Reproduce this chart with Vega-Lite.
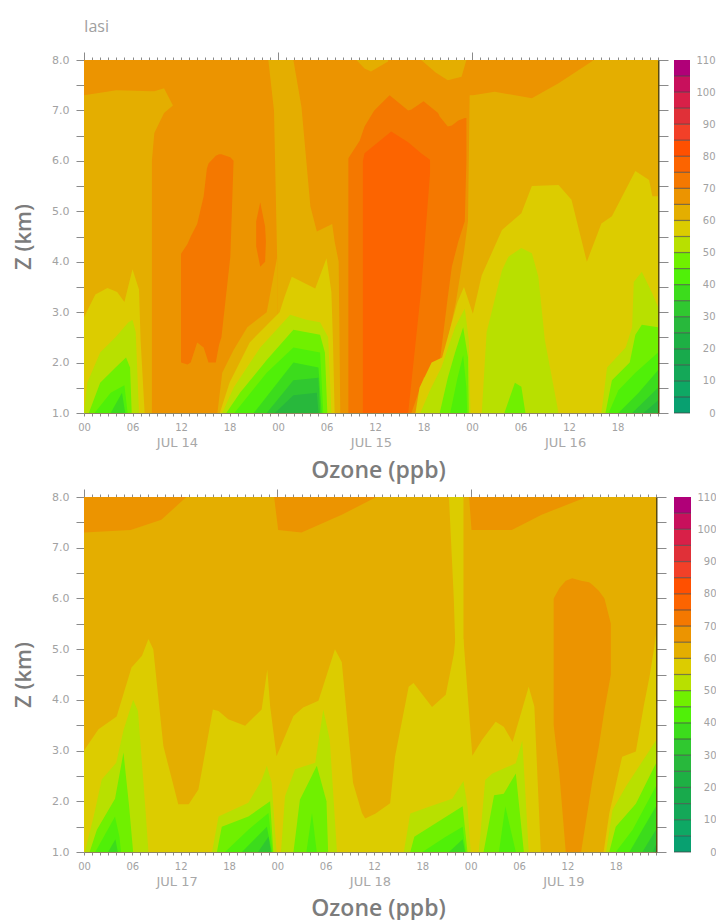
{
"$schema":"https://vega.github.io/schema/vega-lite/v6.json",
"background":"white",
"padding":{"left":12,"top":18,"right":0,"bottom":6},
"bounds":"flush",
"columns":2,
"spacing":{"row":84,"column":16},
"config":{"view":{"stroke":null},"axis":{"grid":false,"labelFont":"DejaVu Sans","labelColor":"#a2a2a2","titleFont":"Open Sans","titleColor":"#7c7c7c","titleFontSize":22,"titleFontWeight":600,"tickColor":"#8a8a8a","domainColor":"#8f8460"}},
"datasets":{
"axis":[{"h":0,"z":1},{"h":71,"z":8}],
"bar":[{"v":0,"hi":5},{"v":5,"hi":10},{"v":10,"hi":15},{"v":15,"hi":20},{"v":20,"hi":25},{"v":25,"hi":30},{"v":30,"hi":35},{"v":35,"hi":40},{"v":40,"hi":45},{"v":45,"hi":50},{"v":50,"hi":55},{"v":55,"hi":60},{"v":60,"hi":65},{"v":65,"hi":70},{"v":70,"hi":75},{"v":75,"hi":80},{"v":80,"hi":85},{"v":85,"hi":90},{"v":90,"hi":95},{"v":95,"hi":100},{"v":100,"hi":105},{"v":105,"hi":110}],
"top":[
{"r":"b","v":65,"t":0,"a":1,"b":8},{"r":"b","v":65,"t":71,"a":1,"b":8},
{"r":"c1","v":60,"t":0,"a":1,"b":7.3},{"r":"c1","v":60,"t":4,"a":1,"b":7.4},{"r":"c1","v":60,"t":8.4,"a":1,"b":7.38},{"r":"c1","v":60,"t":8.4,"a":6,"b":7.38},{"r":"c1","v":60,"t":8.7,"a":6.55,"b":7.38},{"r":"c1","v":60,"t":9.9,"a":6.95,"b":7.44},{"r":"c1","v":60,"t":11,"a":7.1,"b":7.1},
{"r":"d1","v":70,"t":12,"a":2,"b":4.16},{"r":"d1","v":70,"t":12.8,"a":1.96,"b":4.35},{"r":"d1","v":70,"t":13.2,"a":2,"b":4.5},{"r":"d1","v":70,"t":14,"a":2.4,"b":4.75},{"r":"d1","v":70,"t":14.8,"a":2.3,"b":5.3},{"r":"d1","v":70,"t":15.2,"a":2.1,"b":5.85},{"r":"d1","v":70,"t":15.4,"a":2,"b":5.95},{"r":"d1","v":70,"t":16.3,"a":2,"b":6.1},{"r":"d1","v":70,"t":16.7,"a":2.35,"b":6.13},{"r":"d1","v":70,"t":17,"a":2.5,"b":6.13},{"r":"d1","v":70,"t":18.1,"a":4.1,"b":6.07},{"r":"d1","v":70,"t":18.5,"a":6,"b":6},
{"r":"d2","v":70,"t":21.3,"a":4.3,"b":4.8},{"r":"d2","v":70,"t":21.8,"a":3.9,"b":5.18},{"r":"d2","v":70,"t":22.4,"a":4,"b":4.7},{"r":"d2","v":70,"t":22.5,"a":4.4,"b":4.4},
{"r":"e1","v":60,"t":16.5,"a":1,"b":1},{"r":"e1","v":60,"t":17.1,"a":1,"b":1.8},{"r":"e1","v":60,"t":18.5,"a":1,"b":2.25},{"r":"e1","v":60,"t":20.2,"a":1,"b":2.7},{"r":"e1","v":60,"t":22.6,"a":1,"b":3},{"r":"e1","v":60,"t":23.9,"a":1,"b":4.1},
{"r":"e2","v":60,"t":22.8,"a":8,"b":8},{"r":"e2","v":60,"t":23.5,"a":7,"b":8},{"r":"e2","v":60,"t":23.9,"a":4,"b":8},{"r":"e2","v":60,"t":23.9,"a":1,"b":8},{"r":"e2","v":60,"t":25.9,"a":1,"b":8},{"r":"e2","v":60,"t":26.9,"a":1,"b":7.07},{"r":"e2","v":60,"t":28,"a":1,"b":5.1},{"r":"e2","v":60,"t":28.8,"a":1,"b":4.6},{"r":"e2","v":60,"t":30.7,"a":1,"b":4.75},{"r":"e2","v":60,"t":31,"a":1,"b":4.4},{"r":"e2","v":60,"t":31.5,"a":1,"b":4},{"r":"e2","v":60,"t":31.7,"a":1,"b":1},
{"r":"f1","v":55,"t":0,"a":1,"b":2.9},{"r":"f1","v":55,"t":1.4,"a":1,"b":3.35},{"r":"f1","v":55,"t":2.9,"a":1,"b":3.48},{"r":"f1","v":55,"t":4.1,"a":1,"b":3.4},{"r":"f1","v":55,"t":5,"a":1,"b":3.2},{"r":"f1","v":55,"t":6,"a":1,"b":3.85},{"r":"f1","v":55,"t":6.8,"a":1,"b":3.45},{"r":"f1","v":55,"t":7,"a":1,"b":2.45},{"r":"f1","v":55,"t":7.5,"a":1,"b":1},
{"r":"f2","v":50,"t":0,"a":1,"b":1},{"r":"f2","v":50,"t":0.4,"a":1,"b":1.6},{"r":"f2","v":50,"t":2,"a":1,"b":2.2},{"r":"f2","v":50,"t":3.9,"a":1,"b":2.5},{"r":"f2","v":50,"t":5.5,"a":1,"b":2.8},{"r":"f2","v":50,"t":6,"a":1,"b":2.85},{"r":"f2","v":50,"t":6.4,"a":1,"b":2.6},{"r":"f2","v":50,"t":6.8,"a":1,"b":1},
{"r":"f3","v":45,"t":0.6,"a":1,"b":1},{"r":"f3","v":45,"t":2,"a":1,"b":1.6},{"r":"f3","v":45,"t":3.9,"a":1,"b":1.9},{"r":"f3","v":45,"t":5.2,"a":1,"b":2.1},{"r":"f3","v":45,"t":5.7,"a":1,"b":1.9},{"r":"f3","v":45,"t":5.9,"a":1,"b":1},
{"r":"f4","v":40,"t":1.3,"a":1,"b":1},{"r":"f4","v":40,"t":3.3,"a":1,"b":1.4},{"r":"f4","v":40,"t":5,"a":1,"b":1.55},{"r":"f4","v":40,"t":5.4,"a":1,"b":1},
{"r":"f5","v":35,"t":3.3,"a":1,"b":1},{"r":"f5","v":35,"t":4.7,"a":1,"b":1.4},{"r":"f5","v":35,"t":5.1,"a":1,"b":1},
{"r":"g1","v":55,"t":16.8,"a":1,"b":1},{"r":"g1","v":55,"t":18,"a":1,"b":1.6},{"r":"g1","v":55,"t":20.5,"a":1,"b":2.4},{"r":"g1","v":55,"t":24.2,"a":1,"b":3},{"r":"g1","v":55,"t":24.8,"a":1,"b":3.3},{"r":"g1","v":55,"t":25.7,"a":1,"b":3.7},{"r":"g1","v":55,"t":28.6,"a":1,"b":3.47},{"r":"g1","v":55,"t":30,"a":1,"b":4.07},{"r":"g1","v":55,"t":30.6,"a":1,"b":3.4},{"r":"g1","v":55,"t":30.8,"a":1,"b":2.4},{"r":"g1","v":55,"t":31,"a":1,"b":1},
{"r":"g2","v":50,"t":17.1,"a":1,"b":1},{"r":"g2","v":50,"t":18.5,"a":1,"b":1.5},{"r":"g2","v":50,"t":21.8,"a":1,"b":2.3},{"r":"g2","v":50,"t":25.5,"a":1,"b":2.95},{"r":"g2","v":50,"t":27.5,"a":1,"b":2.85},{"r":"g2","v":50,"t":29.2,"a":1,"b":2.8},{"r":"g2","v":50,"t":30.2,"a":1,"b":2.5},{"r":"g2","v":50,"t":30.6,"a":1,"b":1},
{"r":"g3","v":45,"t":17.6,"a":1,"b":1},{"r":"g3","v":45,"t":19.3,"a":1,"b":1.4},{"r":"g3","v":45,"t":22.6,"a":1,"b":2.05},{"r":"g3","v":45,"t":25.9,"a":1,"b":2.65},{"r":"g3","v":45,"t":29.2,"a":1,"b":2.55},{"r":"g3","v":45,"t":29.8,"a":1,"b":2.2},{"r":"g3","v":45,"t":30.1,"a":1,"b":1},
{"r":"g4","v":40,"t":18.6,"a":1,"b":1},{"r":"g4","v":40,"t":22.6,"a":1,"b":1.8},{"r":"g4","v":40,"t":25.9,"a":1,"b":2.3},{"r":"g4","v":40,"t":29.2,"a":1,"b":2.2},{"r":"g4","v":40,"t":29.6,"a":1,"b":1},
{"r":"g5","v":35,"t":21,"a":1,"b":1},{"r":"g5","v":35,"t":25.9,"a":1,"b":2},{"r":"g5","v":35,"t":29,"a":1,"b":1.9},{"r":"g5","v":35,"t":29.4,"a":1,"b":1},
{"r":"g6","v":30,"t":22.6,"a":1,"b":1},{"r":"g6","v":30,"t":25.9,"a":1,"b":1.65},{"r":"g6","v":30,"t":29,"a":1,"b":1.7},{"r":"g6","v":30,"t":29.2,"a":1,"b":1},
{"r":"g7","v":25,"t":23.6,"a":1,"b":1},{"r":"g7","v":25,"t":25.9,"a":1,"b":1.35},{"r":"g7","v":25,"t":28.8,"a":1,"b":1.4},{"r":"g7","v":25,"t":29,"a":1,"b":1},
{"r":"h1","v":70,"t":32.7,"a":1,"b":6.05},{"r":"h1","v":70,"t":34.1,"a":1,"b":6.4},{"r":"h1","v":70,"t":34.7,"a":1,"b":6.68},{"r":"h1","v":70,"t":35.9,"a":1,"b":7},{"r":"h1","v":70,"t":37.8,"a":1,"b":7.3},{"r":"h1","v":70,"t":40.1,"a":1,"b":7},{"r":"h1","v":70,"t":40.5,"a":1,"b":7.02},{"r":"h1","v":70,"t":42,"a":1.7,"b":7.18},{"r":"h1","v":70,"t":43.8,"a":1.95,"b":6.95},{"r":"h1","v":70,"t":44,"a":2,"b":6.88},{"r":"h1","v":70,"t":45,"a":3.3,"b":6.68},{"r":"h1","v":70,"t":45.5,"a":3.9,"b":6.7},{"r":"h1","v":70,"t":46.3,"a":4.4,"b":6.8},{"r":"h1","v":70,"t":47.1,"a":4.8,"b":6.85},{"r":"h1","v":70,"t":47.3,"a":6,"b":6.85},
{"r":"h2","v":75,"t":34.5,"a":1,"b":6},{"r":"h2","v":75,"t":34.7,"a":1,"b":6.15},{"r":"h2","v":75,"t":38,"a":1,"b":6.58},{"r":"h2","v":75,"t":40.1,"a":1,"b":6.37},{"r":"h2","v":75,"t":41.7,"a":3.44,"b":6.15},{"r":"h2","v":75,"t":42.8,"a":5.75,"b":6.02},
{"r":"i1","v":60,"t":33.7,"a":8,"b":8},{"r":"i1","v":60,"t":34.7,"a":7.83,"b":8},{"r":"i1","v":60,"t":35.5,"a":7.77,"b":8},{"r":"i1","v":60,"t":37.6,"a":7.97,"b":8},
{"r":"i2","v":60,"t":41.7,"a":8,"b":8},{"r":"i2","v":60,"t":43.5,"a":7.75,"b":8},{"r":"i2","v":60,"t":45,"a":7.6,"b":8},{"r":"i2","v":60,"t":46.7,"a":7.67,"b":8},{"r":"i2","v":60,"t":47.3,"a":8,"b":8},
{"r":"j1","v":60,"t":41.2,"a":1,"b":1},{"r":"j1","v":60,"t":44.4,"a":1,"b":2},{"r":"j1","v":60,"t":46,"a":1,"b":3.2},{"r":"j1","v":60,"t":47,"a":1,"b":4.2},{"r":"j1","v":60,"t":47.5,"a":1,"b":4.8},{"r":"j1","v":60,"t":47.7,"a":1,"b":7.3},{"r":"j1","v":60,"t":48.1,"a":1,"b":7.3},{"r":"j1","v":60,"t":50.8,"a":1,"b":7.37},{"r":"j1","v":60,"t":55.4,"a":1,"b":7.24},{"r":"j1","v":60,"t":58.7,"a":1,"b":7.54},{"r":"j1","v":60,"t":62.8,"a":1,"b":7.97},{"r":"j1","v":60,"t":63,"a":1,"b":8},{"r":"j1","v":60,"t":71,"a":1,"b":8},
{"r":"j2","v":55,"t":41,"a":1,"b":1},{"r":"j2","v":55,"t":41.5,"a":1,"b":1.5},{"r":"j2","v":55,"t":43,"a":1,"b":2},{"r":"j2","v":55,"t":44.3,"a":1,"b":2.1},{"r":"j2","v":55,"t":46.2,"a":1,"b":3.2},{"r":"j2","v":55,"t":47,"a":1,"b":3.5},{"r":"j2","v":55,"t":48.1,"a":1,"b":2.97},{"r":"j2","v":55,"t":49.2,"a":1,"b":3.73},{"r":"j2","v":55,"t":51.7,"a":1,"b":4.63},{"r":"j2","v":55,"t":54.1,"a":1,"b":4.96},{"r":"j2","v":55,"t":55.4,"a":1,"b":5.5},{"r":"j2","v":55,"t":58.7,"a":1,"b":5.52},{"r":"j2","v":55,"t":60.3,"a":1,"b":5.23},{"r":"j2","v":55,"t":62.2,"a":1,"b":4},{"r":"j2","v":55,"t":64,"a":1,"b":4.76},{"r":"j2","v":55,"t":65.3,"a":1,"b":4.9},{"r":"j2","v":55,"t":68.2,"a":1,"b":5.8},{"r":"j2","v":55,"t":69.9,"a":1,"b":5.62},{"r":"j2","v":55,"t":70.3,"a":1,"b":5.3},{"r":"j2","v":55,"t":71,"a":1,"b":5.3},
{"r":"k1","v":50,"t":41.6,"a":1,"b":1},{"r":"k1","v":50,"t":42.8,"a":1,"b":1.45},{"r":"k1","v":50,"t":44.2,"a":1,"b":1.9},{"r":"k1","v":50,"t":45.9,"a":1,"b":2.7},{"r":"k1","v":50,"t":47.1,"a":1,"b":3.07},{"r":"k1","v":50,"t":47.6,"a":1,"b":2.45},{"r":"k1","v":50,"t":47.8,"a":1,"b":1},
{"r":"k2","v":45,"t":44,"a":1,"b":1},{"r":"k2","v":45,"t":45,"a":1,"b":1.7},{"r":"k2","v":45,"t":45.9,"a":1,"b":2.2},{"r":"k2","v":45,"t":46.9,"a":1,"b":2.7},{"r":"k2","v":45,"t":47.5,"a":1,"b":2.1},{"r":"k2","v":45,"t":47.6,"a":1,"b":1},
{"r":"k3","v":40,"t":45.3,"a":1,"b":1},{"r":"k3","v":40,"t":46.2,"a":1,"b":1.7},{"r":"k3","v":40,"t":46.9,"a":1,"b":2.15},{"r":"k3","v":40,"t":47.3,"a":1,"b":1.5},{"r":"k3","v":40,"t":47.4,"a":1,"b":1},
{"r":"l1","v":50,"t":49.2,"a":1,"b":1},{"r":"l1","v":50,"t":49.8,"a":1,"b":2.6},{"r":"l1","v":50,"t":51.7,"a":1,"b":3.83},{"r":"l1","v":50,"t":52.5,"a":1,"b":4.1},{"r":"l1","v":50,"t":54.1,"a":1,"b":4.27},{"r":"l1","v":50,"t":55.4,"a":1,"b":4.17},{"r":"l1","v":50,"t":56.2,"a":1,"b":3.7},{"r":"l1","v":50,"t":57,"a":1,"b":2.45},{"r":"l1","v":50,"t":58.7,"a":1,"b":1},
{"r":"l2","v":45,"t":52,"a":1,"b":1},{"r":"l2","v":45,"t":53.3,"a":1,"b":1.6},{"r":"l2","v":45,"t":54.1,"a":1,"b":1.52},{"r":"l2","v":45,"t":54.6,"a":1,"b":1},
{"r":"m1","v":50,"t":64,"a":1,"b":1},{"r":"m1","v":50,"t":64.7,"a":1,"b":1.9},{"r":"m1","v":50,"t":67,"a":1,"b":2.3},{"r":"m1","v":50,"t":67.8,"a":1,"b":2.7},{"r":"m1","v":50,"t":68,"a":1,"b":3.6},{"r":"m1","v":50,"t":69,"a":1,"b":3.8},{"r":"m1","v":50,"t":70.3,"a":1,"b":3.37},{"r":"m1","v":50,"t":71,"a":1,"b":3.1},
{"r":"m2","v":45,"t":64.5,"a":1,"b":1},{"r":"m2","v":45,"t":65.3,"a":1,"b":1.65},{"r":"m2","v":45,"t":67.5,"a":1,"b":2},{"r":"m2","v":45,"t":68.2,"a":1,"b":2.55},{"r":"m2","v":45,"t":69,"a":1,"b":2.75},{"r":"m2","v":45,"t":71,"a":1,"b":2.7},
{"r":"m3","v":40,"t":64.9,"a":1,"b":1},{"r":"m3","v":40,"t":66.1,"a":1,"b":1.45},{"r":"m3","v":40,"t":68.2,"a":1,"b":1.8},{"r":"m3","v":40,"t":71,"a":1,"b":2.2},
{"r":"m4","v":35,"t":66.1,"a":1,"b":1},{"r":"m4","v":35,"t":68.6,"a":1,"b":1.4},{"r":"m4","v":35,"t":71,"a":1,"b":1.85},
{"r":"m5","v":30,"t":67.8,"a":1,"b":1},{"r":"m5","v":30,"t":71,"a":1,"b":1.5},
{"r":"m6","v":25,"t":69.2,"a":1,"b":1},{"r":"m6","v":25,"t":71,"a":1,"b":1.25}
],
"bottom":[
{"r":"b","v":60,"t":0,"a":1,"b":8},{"r":"b","v":60,"t":71,"a":1,"b":8},
{"r":"p1","v":65,"t":0,"a":7.3,"b":8},{"r":"p1","v":65,"t":5.8,"a":7.35,"b":8},{"r":"p1","v":65,"t":9.6,"a":7.55,"b":8},{"r":"p1","v":65,"t":12.7,"a":8,"b":8},
{"r":"p2","v":65,"t":23.6,"a":8,"b":8},{"r":"p2","v":65,"t":24.1,"a":7.35,"b":8},{"r":"p2","v":65,"t":27,"a":7.3,"b":8},{"r":"p2","v":65,"t":32,"a":7.65,"b":8},{"r":"p2","v":65,"t":36.3,"a":8,"b":8},
{"r":"p3","v":65,"t":47.8,"a":8,"b":8},{"r":"p3","v":65,"t":48.1,"a":7.35,"b":8},{"r":"p3","v":65,"t":53.1,"a":7.35,"b":8},{"r":"p3","v":65,"t":56.8,"a":7.65,"b":8},{"r":"p3","v":65,"t":62.4,"a":8,"b":8},
{"r":"q","v":65,"t":58.3,"a":3.5,"b":6},{"r":"q","v":65,"t":59,"a":2.55,"b":6.2},{"r":"q","v":65,"t":59.8,"a":1,"b":6.35},{"r":"q","v":65,"t":60.6,"a":1,"b":6.4},{"r":"q","v":65,"t":61.7,"a":1,"b":6.35},{"r":"q","v":65,"t":62.7,"a":2,"b":6.32},{"r":"q","v":65,"t":63.1,"a":2.4,"b":6.27},{"r":"q","v":65,"t":63.9,"a":3.08,"b":6.15},{"r":"q","v":65,"t":64.6,"a":3.8,"b":6},{"r":"q","v":65,"t":65.4,"a":4.5,"b":5.5},{"r":"q","v":65,"t":65.4,"a":5.2,"b":5.5},
{"r":"s","v":55,"t":45.3,"a":8,"b":8},{"r":"s","v":55,"t":45.9,"a":6,"b":8},{"r":"s","v":55,"t":46.1,"a":5,"b":8},{"r":"s","v":55,"t":47.1,"a":5,"b":8},{"r":"s","v":55,"t":47.1,"a":8,"b":8},
{"r":"u","v":55,"t":0,"a":1,"b":3},{"r":"u","v":55,"t":1.8,"a":1,"b":3.42},{"r":"u","v":55,"t":4.05,"a":1,"b":3.67},{"r":"u","v":55,"t":5.9,"a":1,"b":4.64},{"r":"u","v":55,"t":7.2,"a":1,"b":4.87},{"r":"u","v":55,"t":8,"a":1,"b":5.2},{"r":"u","v":55,"t":8.6,"a":1,"b":5},{"r":"u","v":55,"t":9.85,"a":1,"b":3.09},{"r":"u","v":55,"t":11.7,"a":1,"b":1.94},{"r":"u","v":55,"t":13,"a":1,"b":1.94},{"r":"u","v":55,"t":14.2,"a":1,"b":2.23},{"r":"u","v":55,"t":16,"a":1,"b":3.81},{"r":"u","v":55,"t":16.7,"a":1,"b":3.78},{"r":"u","v":55,"t":17.9,"a":1,"b":3.62},{"r":"u","v":55,"t":20,"a":1,"b":3.49},{"r":"u","v":55,"t":22.05,"a":1,"b":3.81},{"r":"u","v":55,"t":22.75,"a":1,"b":4.6},{"r":"u","v":55,"t":23.1,"a":1,"b":3.88},{"r":"u","v":55,"t":23.9,"a":1,"b":2.89},{"r":"u","v":55,"t":26,"a":1,"b":3.68},{"r":"u","v":55,"t":27.2,"a":1,"b":3.85},{"r":"u","v":55,"t":29.1,"a":1,"b":3.98},{"r":"u","v":55,"t":31.15,"a":1,"b":5},{"r":"u","v":55,"t":32,"a":1,"b":4.74},{"r":"u","v":55,"t":33.4,"a":1,"b":2.36},{"r":"u","v":55,"t":34.5,"a":1,"b":1.77},{"r":"u","v":55,"t":34.9,"a":1,"b":1.66},{"r":"u","v":55,"t":36.2,"a":1,"b":1.76},{"r":"u","v":55,"t":38,"a":1,"b":1.96},{"r":"u","v":55,"t":38.6,"a":1,"b":2.88},{"r":"u","v":55,"t":40.3,"a":1,"b":4.26},{"r":"u","v":55,"t":40.9,"a":1,"b":4.33},{"r":"u","v":55,"t":43.2,"a":1,"b":3.86},{"r":"u","v":55,"t":44.9,"a":1,"b":4.1},{"r":"u","v":55,"t":45.9,"a":1,"b":4.9},{"r":"u","v":55,"t":46.1,"a":1,"b":5.2},{"r":"u","v":55,"t":47.1,"a":1,"b":5.2},{"r":"u","v":55,"t":48.2,"a":1,"b":2.9},{"r":"u","v":55,"t":49.4,"a":1,"b":3.21},{"r":"u","v":55,"t":51.1,"a":1,"b":3.57},{"r":"u","v":55,"t":52.1,"a":1,"b":3.47},{"r":"u","v":55,"t":53.2,"a":1,"b":3.17},{"r":"u","v":55,"t":55.2,"a":1,"b":4.26},{"r":"u","v":55,"t":55.9,"a":1,"b":3.87},{"r":"u","v":55,"t":56.7,"a":1,"b":1},
{"r":"w","v":55,"t":64.5,"a":1,"b":1},{"r":"w","v":55,"t":65.2,"a":1,"b":1.76},{"r":"w","v":55,"t":66.8,"a":1,"b":2.88},{"r":"w","v":55,"t":68.5,"a":1,"b":2.98},{"r":"w","v":55,"t":69.5,"a":1,"b":3.9},{"r":"w","v":55,"t":70.2,"a":1,"b":4.46},{"r":"w","v":55,"t":70.8,"a":1,"b":5.05},{"r":"w","v":55,"t":71,"a":1,"b":5.3},
{"r":"a1","v":50,"t":0.1,"a":1,"b":1},{"r":"a1","v":50,"t":1.2,"a":1,"b":1.7},{"r":"a1","v":50,"t":2.2,"a":1,"b":2.43},{"r":"a1","v":50,"t":4,"a":1,"b":2.76},{"r":"a1","v":50,"t":4.9,"a":1,"b":3.4},{"r":"a1","v":50,"t":6.1,"a":1,"b":4},{"r":"a1","v":50,"t":6.7,"a":1,"b":3.78},{"r":"a1","v":50,"t":7.6,"a":1,"b":1.9},{"r":"a1","v":50,"t":8,"a":1,"b":1},
{"r":"a2","v":45,"t":0.7,"a":1,"b":1},{"r":"a2","v":45,"t":1.6,"a":1,"b":1.44},{"r":"a2","v":45,"t":3.85,"a":1,"b":2.05},{"r":"a2","v":45,"t":4.9,"a":1,"b":2.96},{"r":"a2","v":45,"t":5.6,"a":1,"b":1.9},{"r":"a2","v":45,"t":6.1,"a":1,"b":1},
{"r":"a3","v":40,"t":1.4,"a":1,"b":1},{"r":"a3","v":40,"t":3.85,"a":1,"b":1.7},{"r":"a3","v":40,"t":4.4,"a":1,"b":1.3},{"r":"a3","v":40,"t":4.6,"a":1,"b":1},
{"r":"a4","v":35,"t":3,"a":1,"b":1},{"r":"a4","v":35,"t":3.9,"a":1,"b":1.25},{"r":"a4","v":35,"t":4.2,"a":1,"b":1},
{"r":"n1","v":50,"t":15.9,"a":1,"b":1},{"r":"n1","v":50,"t":16.7,"a":1,"b":1.7},{"r":"n1","v":50,"t":20.4,"a":1,"b":1.97},{"r":"n1","v":50,"t":22,"a":1,"b":2.4},{"r":"n1","v":50,"t":22.7,"a":1,"b":2.7},{"r":"n1","v":50,"t":23.3,"a":1,"b":2.36},{"r":"n1","v":50,"t":23.9,"a":1,"b":1},
{"r":"n2","v":45,"t":16.5,"a":1,"b":1},{"r":"n2","v":45,"t":17.1,"a":1,"b":1.5},{"r":"n2","v":45,"t":20.4,"a":1,"b":1.7},{"r":"n2","v":45,"t":23.1,"a":1,"b":2},{"r":"n2","v":45,"t":23.5,"a":1,"b":1},
{"r":"n3","v":40,"t":17.5,"a":1,"b":1},{"r":"n3","v":40,"t":20.4,"a":1,"b":1.44},{"r":"n3","v":40,"t":22.9,"a":1,"b":1.77},{"r":"n3","v":40,"t":23.4,"a":1,"b":1},
{"r":"n4","v":35,"t":19.6,"a":1,"b":1},{"r":"n4","v":35,"t":22.7,"a":1,"b":1.5},{"r":"n4","v":35,"t":23.3,"a":1,"b":1},
{"r":"n5","v":30,"t":21.6,"a":1,"b":1},{"r":"n5","v":30,"t":22.9,"a":1,"b":1.3},{"r":"n5","v":30,"t":23.2,"a":1,"b":1},
{"r":"o1","v":50,"t":24.45,"a":1,"b":1},{"r":"o1","v":50,"t":24.95,"a":1,"b":2.1},{"r":"o1","v":50,"t":26.2,"a":1,"b":2.63},{"r":"o1","v":50,"t":28.7,"a":1,"b":2.76},{"r":"o1","v":50,"t":29.7,"a":1,"b":3.81},{"r":"o1","v":50,"t":30.5,"a":1,"b":3.22},{"r":"o1","v":50,"t":31.4,"a":1,"b":1},
{"r":"o2","v":45,"t":26,"a":1,"b":1},{"r":"o2","v":45,"t":26.8,"a":1,"b":2.03},{"r":"o2","v":45,"t":28.9,"a":1,"b":2.7},{"r":"o2","v":45,"t":30.1,"a":1,"b":2},{"r":"o2","v":45,"t":30.3,"a":1,"b":1},
{"r":"o3","v":40,"t":27.6,"a":1,"b":1},{"r":"o3","v":40,"t":28.3,"a":1,"b":1.77},{"r":"o3","v":40,"t":28.9,"a":1,"b":1},
{"r":"x1","v":50,"t":39.7,"a":1,"b":1},{"r":"x1","v":50,"t":40.5,"a":1,"b":1.76},{"r":"x1","v":50,"t":43,"a":1,"b":1.9},{"r":"x1","v":50,"t":45.7,"a":1,"b":2.05},{"r":"x1","v":50,"t":47.1,"a":1,"b":2.4},{"r":"x1","v":50,"t":47.6,"a":1,"b":1.9},{"r":"x1","v":50,"t":48,"a":1,"b":1},
{"r":"x2","v":45,"t":40.5,"a":1,"b":1},{"r":"x2","v":45,"t":41,"a":1,"b":1.3},{"r":"x2","v":45,"t":44,"a":1,"b":1.6},{"r":"x2","v":45,"t":47,"a":1,"b":1.9},{"r":"x2","v":45,"t":47.6,"a":1,"b":1},
{"r":"x3","v":40,"t":42,"a":1,"b":1},{"r":"x3","v":40,"t":44.9,"a":1,"b":1.3},{"r":"x3","v":40,"t":47,"a":1,"b":1.5},{"r":"x3","v":40,"t":47.4,"a":1,"b":1},
{"r":"x4","v":35,"t":45.3,"a":1,"b":1},{"r":"x4","v":35,"t":47,"a":1,"b":1.25},{"r":"x4","v":35,"t":47.3,"a":1,"b":1},
{"r":"y1","v":50,"t":49,"a":1,"b":1},{"r":"y1","v":50,"t":49.8,"a":1,"b":2.42},{"r":"y1","v":50,"t":50.7,"a":1,"b":2.55},{"r":"y1","v":50,"t":53.6,"a":1,"b":2.75},{"r":"y1","v":50,"t":54.4,"a":1,"b":3.2},{"r":"y1","v":50,"t":54.7,"a":1,"b":2.4},{"r":"y1","v":50,"t":55.2,"a":1,"b":1},
{"r":"y2","v":45,"t":49.6,"a":1,"b":1},{"r":"y2","v":45,"t":50.9,"a":1,"b":2.12},{"r":"y2","v":45,"t":52.1,"a":1,"b":2.15},{"r":"y2","v":45,"t":53.6,"a":1,"b":2.55},{"r":"y2","v":45,"t":54.6,"a":1,"b":1},
{"r":"y3","v":40,"t":51.5,"a":1,"b":1},{"r":"y3","v":40,"t":52.3,"a":1,"b":1.9},{"r":"y3","v":40,"t":53.6,"a":1,"b":1},
{"r":"z1","v":50,"t":64.8,"a":1,"b":1},{"r":"z1","v":50,"t":65.6,"a":1,"b":1.83},{"r":"z1","v":50,"t":67.3,"a":1,"b":2.3},{"r":"z1","v":50,"t":71,"a":1,"b":3.2},
{"r":"z2","v":45,"t":65.2,"a":1,"b":1},{"r":"z2","v":45,"t":66,"a":1,"b":1.5},{"r":"z2","v":45,"t":68.5,"a":1,"b":1.95},{"r":"z2","v":45,"t":71,"a":1,"b":2.75},
{"r":"z3","v":40,"t":66,"a":1,"b":1},{"r":"z3","v":40,"t":68.1,"a":1,"b":1.44},{"r":"z3","v":40,"t":71,"a":1,"b":2.3},
{"r":"z4","v":35,"t":67.7,"a":1,"b":1},{"r":"z4","v":35,"t":71,"a":1,"b":1.9},
{"r":"z5","v":30,"t":69.3,"a":1,"b":1},{"r":"z5","v":30,"t":71,"a":1,"b":1.44},
{"r":"z6","v":25,"t":70.6,"a":1,"b":1},{"r":"z6","v":25,"t":71,"a":1,"b":1.15}
]
},
"concat":[
{"width":574,"height":353,
"title":{"text":"Iasi","anchor":"start","frame":"group","font":"Open Sans","fontSize":16,"fontWeight":"normal","color":"#a0a0a0","offset":17},
"layer":[
{"data":{"name":"top"},"mark":{"type":"area","interpolate":"linear","clip":true},
"encoding":{
"x":{"field":"t","type":"quantitative","scale":{"domain":[0,71],"nice":false,"zero":false},"axis":{"orient":"bottom","title":null,"values":[0,1,2,3,4,5,6,7,8,9,10,11,12,13,14,15,16,17,18,19,20,21,22,23,24,25,26,27,28,29,30,31,32,33,34,35,36,37,38,39,40,41,42,43,44,45,46,47,48,49,50,51,52,53,54,55,56,57,58,59,60,61,62,63,64,65,66,67,68,69,70,71],"tickSize":3,"labelFontSize":10,"labelPadding":6,"labelFlush":false,"labelOverlap":false,"labelExpr":"datum.value%6==0?((datum.value%24<10?'0':'')+(datum.value%24)):''"}},
"y":{"field":"a","type":"quantitative","scale":{"domain":[1,8],"nice":false,"zero":false},"axis":{"orient":"left","title":"Z (km)","titlePadding":16,"values":[1,1.5,2,2.5,3,3.5,4,4.5,5,5.5,6,6.5,7,7.5,8],"tickSize":8,"labelFontSize":11,"labelPadding":7,"labelFlush":false,"labelOverlap":false,"labelExpr":"datum.value%1==0?format(datum.value,'.1f'):''"}},
"y2":{"field":"b"},
"detail":{"field":"r"},
"color":{"field":"v","type":"ordinal","legend":null,"scale":{"domain":[0,5,10,15,20,25,30,35,40,45,50,55,60,65,70,75,80,85,90,95,100,105],"range":["#08a070","#0ea864","#14a858","#18aa4c","#1eb044","#28b83c","#30c830","#3cdc1c","#50f008","#70f000","#b8e000","#dccc00","#e4ae00","#ec9400","#f47800","#fc6400","#ff5000","#f24028","#e03038","#d82048","#c8105c","#b00078"]}}
}},
{"data":{"name":"axis"},"mark":{"type":"point","opacity":0},
"encoding":{
"x":{"field":"h","type":"quantitative","axis":{"orient":"top","title":null,"labels":false,"values":[0,1,2,3,4,5,6,7,8,9,10,11,12,13,14,15,16,17,18,19,20,21,22,23,24,25,26,27,28,29,30,31,32,33,34,35,36,37,38,39,40,41,42,43,44,45,46,47,48,49,50,51,52,53,54,55,56,57,58,59,60,61,62,63,64,65,66,67,68,69,70,71],"tickSize":3}},
"y":{"field":"z","type":"quantitative","axis":{"orient":"right","title":null,"labels":false,"values":[1,1.5,2,2.5,3,3.5,4,4.5,5,5.5,6,6.5,7,7.5,8],"tickSize":10,"domainColor":"#5a4a10","domainWidth":2}}
}},
{"data":{"name":"axis"},"mark":{"type":"point","opacity":0},
"encoding":{"x":{"field":"h","type":"quantitative","axis":{"orient":"top","title":null,"labels":false,"domain":false,"values":[0,24,48],"tickSize":8}},"y":{"field":"z","type":"quantitative","axis":null}}},
{"data":{"name":"axis"},"mark":{"type":"point","opacity":0},
"encoding":{"x":{"field":"h","type":"quantitative","axis":{"orient":"bottom","title":"Ozone (ppb)","titleFontSize":23,"titleX":294,"titlePadding":10,"domain":false,"ticks":false,"values":[11.5,35.5,59.5],"labelFontSize":13,"labelColor":"#a8a8a8","labelPadding":23,"labelOverlap":false,"labelExpr":"'JUL '+(14+floor(datum.value/24))"}},"y":{"field":"z","type":"quantitative","axis":null}}}
],
"resolve":{"axis":{"x":"independent","y":"independent"}}},
{"width":16,"height":353,"data":{"name":"bar"},
"layer":[
{"mark":{"type":"rect"},"encoding":{
"y":{"field":"v","type":"quantitative","scale":{"domain":[0,110],"nice":false},"axis":{"orient":"right","title":null,"values":[0,10,20,30,40,50,60,70,80,90,100,110],"ticks":false,"domain":false,"labelFontSize":10,"labelAlign":"right","labelPadding":25,"labelFlush":false,"labelOverlap":false}},
"y2":{"field":"hi"},
"color":{"field":"v","type":"ordinal","legend":null,"scale":{"domain":[0,5,10,15,20,25,30,35,40,45,50,55,60,65,70,75,80,85,90,95,100,105],"range":["#08a070","#0ea864","#14a858","#18aa4c","#1eb044","#28b83c","#30c830","#3cdc1c","#50f008","#70f000","#b8e000","#dccc00","#e4ae00","#ec9400","#f47800","#fc6400","#ff5000","#f24028","#e03038","#d82048","#c8105c","#b00078"]}}
}},
{"mark":{"type":"rule","color":"#444","opacity":0.65,"strokeWidth":1.2},"encoding":{"y":{"field":"v","type":"quantitative","axis":{"orient":"right","title":null,"values":[0,10,20,30,40,50,60,70,80,90,100,110],"ticks":false,"domain":false,"labelFontSize":10,"labelAlign":"right","labelPadding":25,"labelFlush":false,"labelOverlap":false}}}}
]},
{"width":572,"height":355,
"layer":[
{"data":{"name":"bottom"},"mark":{"type":"area","interpolate":"linear","clip":true},
"encoding":{
"x":{"field":"t","type":"quantitative","scale":{"domain":[0,71],"nice":false,"zero":false},"axis":{"orient":"bottom","title":null,"values":[0,1,2,3,4,5,6,7,8,9,10,11,12,13,14,15,16,17,18,19,20,21,22,23,24,25,26,27,28,29,30,31,32,33,34,35,36,37,38,39,40,41,42,43,44,45,46,47,48,49,50,51,52,53,54,55,56,57,58,59,60,61,62,63,64,65,66,67,68,69,70,71],"tickSize":3,"labelFontSize":10,"labelPadding":6,"labelFlush":false,"labelOverlap":false,"labelExpr":"datum.value%6==0?((datum.value%24<10?'0':'')+(datum.value%24)):''"}},
"y":{"field":"a","type":"quantitative","scale":{"domain":[1,8],"nice":false,"zero":false},"axis":{"orient":"left","title":"Z (km)","titlePadding":16,"values":[1,1.5,2,2.5,3,3.5,4,4.5,5,5.5,6,6.5,7,7.5,8],"tickSize":8,"labelFontSize":11,"labelPadding":7,"labelFlush":false,"labelOverlap":false,"labelExpr":"datum.value%1==0?format(datum.value,'.1f'):''"}},
"y2":{"field":"b"},
"detail":{"field":"r"},
"color":{"field":"v","type":"ordinal","legend":null,"scale":{"domain":[0,5,10,15,20,25,30,35,40,45,50,55,60,65,70,75,80,85,90,95,100,105],"range":["#08a070","#0ea864","#14a858","#18aa4c","#1eb044","#28b83c","#30c830","#3cdc1c","#50f008","#70f000","#b8e000","#dccc00","#e4ae00","#ec9400","#f47800","#fc6400","#ff5000","#f24028","#e03038","#d82048","#c8105c","#b00078"]}}
}},
{"data":{"name":"axis"},"mark":{"type":"point","opacity":0},
"encoding":{
"x":{"field":"h","type":"quantitative","axis":{"orient":"top","title":null,"labels":false,"values":[0,1,2,3,4,5,6,7,8,9,10,11,12,13,14,15,16,17,18,19,20,21,22,23,24,25,26,27,28,29,30,31,32,33,34,35,36,37,38,39,40,41,42,43,44,45,46,47,48,49,50,51,52,53,54,55,56,57,58,59,60,61,62,63,64,65,66,67,68,69,70,71],"tickSize":3}},
"y":{"field":"z","type":"quantitative","axis":{"orient":"right","title":null,"labels":false,"values":[1,1.5,2,2.5,3,3.5,4,4.5,5,5.5,6,6.5,7,7.5,8],"tickSize":10,"domainColor":"#5a4a10","domainWidth":2}}
}},
{"data":{"name":"axis"},"mark":{"type":"point","opacity":0},
"encoding":{"x":{"field":"h","type":"quantitative","axis":{"orient":"top","title":null,"labels":false,"domain":false,"values":[0,24,48],"tickSize":8}},"y":{"field":"z","type":"quantitative","axis":null}}},
{"data":{"name":"axis"},"mark":{"type":"point","opacity":0},
"encoding":{"x":{"field":"h","type":"quantitative","axis":{"orient":"bottom","title":"Ozone (ppb)","titleFontSize":23,"titleX":294,"titlePadding":9,"domain":false,"ticks":false,"values":[11.5,35.5,59.5],"labelFontSize":13,"labelColor":"#a8a8a8","labelPadding":23,"labelOverlap":false,"labelExpr":"'JUL '+(17+floor(datum.value/24))"}},"y":{"field":"z","type":"quantitative","axis":null}}}
],
"resolve":{"axis":{"x":"independent","y":"independent"}}},
{"width":17,"height":355,"data":{"name":"bar"},
"layer":[
{"mark":{"type":"rect"},"encoding":{
"y":{"field":"v","type":"quantitative","scale":{"domain":[0,110],"nice":false},"axis":{"orient":"right","title":null,"values":[0,10,20,30,40,50,60,70,80,90,100,110],"ticks":false,"domain":false,"labelFontSize":10,"labelAlign":"right","labelPadding":25,"labelFlush":false,"labelOverlap":false}},
"y2":{"field":"hi"},
"color":{"field":"v","type":"ordinal","legend":null,"scale":{"domain":[0,5,10,15,20,25,30,35,40,45,50,55,60,65,70,75,80,85,90,95,100,105],"range":["#08a070","#0ea864","#14a858","#18aa4c","#1eb044","#28b83c","#30c830","#3cdc1c","#50f008","#70f000","#b8e000","#dccc00","#e4ae00","#ec9400","#f47800","#fc6400","#ff5000","#f24028","#e03038","#d82048","#c8105c","#b00078"]}}
}},
{"mark":{"type":"rule","color":"#444","opacity":0.65,"strokeWidth":1.2},"encoding":{"y":{"field":"v","type":"quantitative","axis":{"orient":"right","title":null,"values":[0,10,20,30,40,50,60,70,80,90,100,110],"ticks":false,"domain":false,"labelFontSize":10,"labelAlign":"right","labelPadding":25,"labelFlush":false,"labelOverlap":false}}}}
]}
]
}
